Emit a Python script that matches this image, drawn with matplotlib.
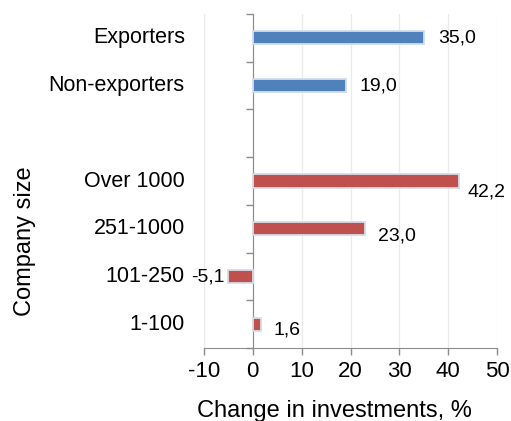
import matplotlib
matplotlib.use("Agg")
import matplotlib.pyplot as plt
import numpy as np

plt.rcParams["font.family"] = ["Liberation Sans", "DejaVu Sans"]

CATEGORIES = ["Exporters", "Non-exporters", "", "Over 1000", "251-1000", "101-250", "1-100"]
VALUES = [35.0, 19.0, np.nan, 42.2, 23.0, -5.1, 1.6]
GROUPS = ["export", "export", None, "size", "size", "size", "size"]
X_TICKS = [-10, 0, 10, 20, 30, 40, 50]

COLORS = {"export": "#4F81BD", "size": "#C0504D"}
# label offsets in points (dx, dy), mimicking the original placement
LABEL_OFFSETS = [(10, 0), (10, 0), (0, 0), (6, -8), (9, -5), (-2, 0), (9, -4)]


def main():
    fig = plt.figure(figsize=(5.11, 4.21), dpi=100)
    ax = fig.add_axes([0.399, 0.173, 0.574, 0.794])

    n = len(CATEGORIES)
    y = np.arange(n)
    for yi, val, grp in zip(y, VALUES, GROUPS):
        if grp is None:
            continue
        ax.barh(yi, val, height=0.28, color=COLORS[grp], edgecolor="#D6DCE8",
                linewidth=1.3, zorder=3)

    for yi, val, (dx, dy) in zip(y, VALUES, LABEL_OFFSETS):
        if np.isnan(val):
            continue
        txt = f"{val:.1f}".replace(".", ",")
        ha = "left" if val >= 0 else "right"
        ax.annotate(txt, (val, yi), xytext=(dx, dy),
                    textcoords="offset points", ha=ha, va="center",
                    fontsize=14, color="#000000", zorder=4)

    ax.set_xlim(-10, 50)
    ax.set_ylim(n - 0.5, -0.5)
    ax.set_xticks(X_TICKS)
    ax.set_xticklabels([str(t) for t in X_TICKS], fontsize=16)
    ax.tick_params(axis="x", direction="out", length=5, width=1, color="#8C8C8C", pad=4)
    ax.grid(axis="x", color="#EBEBEB", linewidth=1, zorder=0)

    ax.spines["top"].set_visible(False)
    ax.spines["right"].set_visible(False)
    ax.spines["bottom"].set_color("#8C8C8C")
    ax.spines["left"].set_color("#8C8C8C")
    ax.spines["left"].set_position(("data", 0))

    ax.set_yticks(y)
    ax.set_yticklabels([])
    ax.set_yticks(np.arange(n + 1) - 0.5, minor=True)
    ax.tick_params(axis="y", which="major", length=0)
    ax.tick_params(axis="y", which="minor", direction="out", length=5, width=1, color="#8C8C8C")

    for yi, name in zip(y, CATEGORIES):
        ax.text(-0.065, yi, name, transform=ax.get_yaxis_transform(),
                ha="right", va="center", fontsize=15.5)

    fig.text(25 / 511, 1 - 241 / 421, "Company size", rotation=90,
             ha="center", va="center", fontsize=17)
    fig.text(334 / 511, 1 - 411 / 421, "Change in investments, %",
             ha="center", va="center", fontsize=17)

    fig.savefig("out.png", dpi=100)


if __name__ == "__main__":
    main()
